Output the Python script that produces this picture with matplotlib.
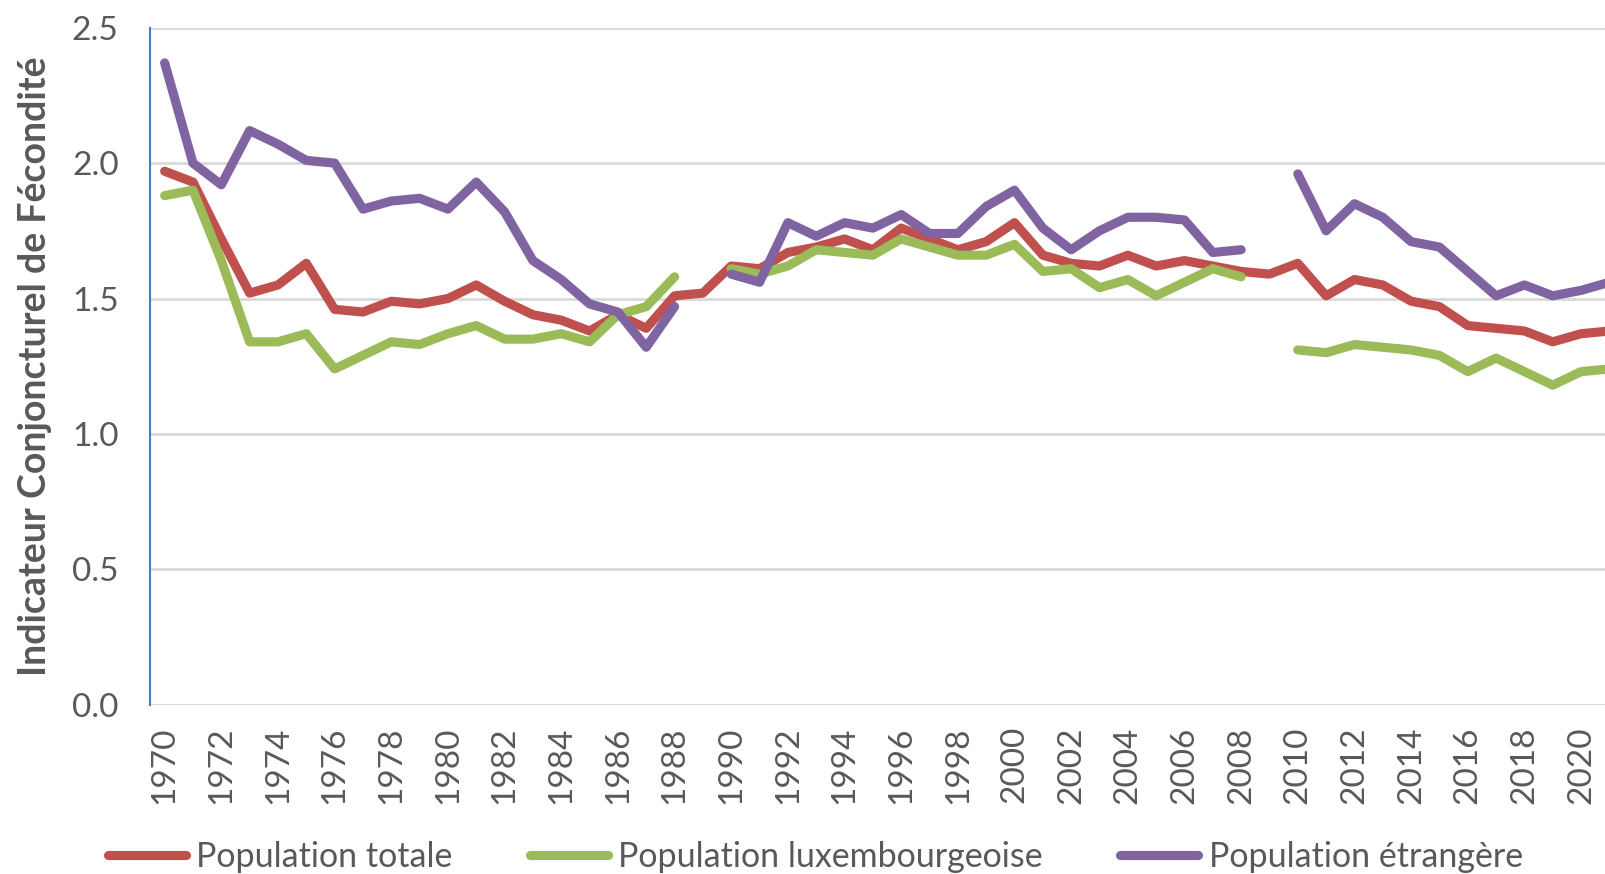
import numpy as np
import matplotlib.pyplot as plt

annees = list(range(1970, 2022))

# Indicateur conjoncturel de fécondité
pop_totale = [1.97, 1.93, 1.72, 1.52, 1.55, 1.63, 1.46, 1.45, 1.49, 1.48,
              1.50, 1.55, 1.49, 1.44, 1.42, 1.38, 1.44, 1.39, 1.51, 1.52,
              1.62, 1.61, 1.67, 1.69, 1.72, 1.68, 1.76, 1.72, 1.68, 1.71,
              1.78, 1.66, 1.63, 1.62, 1.66, 1.62, 1.64, 1.62, 1.60, 1.59,
              1.63, 1.51, 1.57, 1.55, 1.49, 1.47, 1.40, 1.39, 1.38, 1.34,
              1.37, 1.38]
pop_lux = [1.88, 1.90, 1.64, 1.34, 1.34, 1.37, 1.24, 1.29, 1.34, 1.33,
           1.37, 1.40, 1.35, 1.35, 1.37, 1.34, 1.44, 1.47, 1.58, None,
           1.61, 1.59, 1.62, 1.68, 1.67, 1.66, 1.72, 1.69, 1.66, 1.66,
           1.70, 1.60, 1.61, 1.54, 1.57, 1.51, 1.56, 1.61, 1.58, None,
           1.31, 1.30, 1.33, 1.32, 1.31, 1.29, 1.23, 1.28, 1.23, 1.18,
           1.23, 1.24]
pop_etr = [2.37, 2.00, 1.92, 2.12, 2.07, 2.01, 2.00, 1.83, 1.86, 1.87,
           1.83, 1.93, 1.82, 1.64, 1.57, 1.48, 1.45, 1.32, 1.47, None,
           1.59, 1.56, 1.78, 1.73, 1.78, 1.76, 1.81, 1.74, 1.74, 1.84,
           1.90, 1.76, 1.68, 1.75, 1.80, 1.80, 1.79, 1.67, 1.68, None,
           1.96, 1.75, 1.85, 1.80, 1.71, 1.69, 1.60, 1.51, 1.55, 1.51,
           1.53, 1.56]

series = [("Population totale", pop_totale, "#C0504D"),
          ("Population luxembourgeoise", pop_lux, "#9BBB59"),
          ("Population étrangère", pop_etr, "#8064A2")]

plt.rcParams['font.family'] = ['Lato', 'DejaVu Sans']
gris = "#595959"

fig = plt.figure(figsize=(16.06, 8.74), dpi=100)
ax = fig.add_axes([0.0937, 0.1937, 0.9063, 0.7746])

for nom, vals, coul in series:
    y = np.array([np.nan if v is None else v for v in vals], dtype=float)
    ax.plot(annees, y, color=coul, lw=6.6, label=nom,
            solid_capstyle='round', solid_joinstyle='round')

ax.set_ylim(0, 2.5)
ax.set_xlim(1969.5, 2020.88)
ax.set_yticks(np.arange(0, 2.51, 0.5))
ax.yaxis.set_major_formatter(plt.FormatStrFormatter('%.1f'))
ax.set_xticks(annees[::2])
ax.tick_params(axis='x', labelrotation=90, length=0, pad=15.5, labelsize=24, labelcolor=gris)
ax.tick_params(axis='y', length=0, pad=23, labelsize=24, labelcolor=gris)
ax.grid(axis='y', color='#D9D9D9', lw=2)
ax.set_axisbelow(True)
for s in ['top', 'right', 'bottom']:
    ax.spines[s].set_visible(False)
ax.spines['left'].set_color('#4A7EBB')
ax.spines['left'].set_linewidth(1.5)

ax.set_ylabel("Indicateur Conjoncturel de Fécondité", fontsize=27,
              fontweight='bold', color=gris)
ax.yaxis.set_label_coords(-0.068, 0.5)

fig.legend(loc='center', bbox_to_anchor=(0.5076, 0.019), ncol=3, frameon=False,
           fontsize=24.5, labelcolor=gris, handlelength=2.3, handletextpad=0.3,
           columnspacing=2.27)

fig.savefig("out.png", dpi=100)
